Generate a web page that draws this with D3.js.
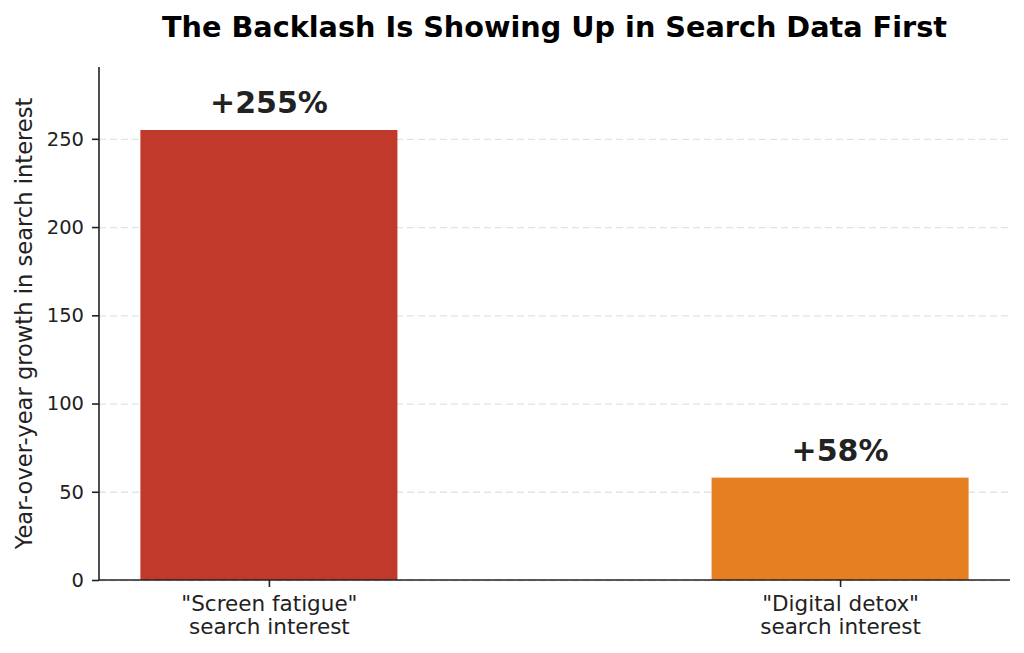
<!DOCTYPE html>
<html>
<head>
<meta charset="utf-8">
<script src="https://cdn.jsdelivr.net/npm/d3@7"></script>
<style>
  body { margin: 0; background: #fff; }
  text { font-family: "DejaVu Sans", sans-serif; }
</style>
</head>
<body>
<div id="chartCtn"></div>
<script>
var categories = [ [ '"Screen fatigue"', 'search interest' ], [ '"Digital detox"', 'search interest' ] ];
var values = [ 255, 58 ];
var valueLabels = [ '+255%', '+58%' ];
var barColors = [ '#c0392b', '#e67e22' ];
var yTicks = [ 0, 50, 100, 150, 200, 250 ];

var width = 1024, height = 653;
var mLeft = 99, mRight = 1010, mTop = 67, mBottom = 580;

var xScale = d3.scaleLinear()
	.domain( [ -0.2975, 1.2975 ] )
	.range( [ mLeft, mRight ] );
var barWidth = 0.45;

var yScale = d3.scaleLinear()
	.domain( [ 0, d3.max( values ) * 1.14 ] )
	.range( [ mBottom, mTop ] );

var chart = d3.select( '#chartCtn' )
	.append( 'svg' )
	.attr( 'width', width )
	.attr( 'height', height );

// grid behind bars
chart.append( 'g' )
	.attr( 'transform', `translate( ${mLeft}, 0 )` )
	.call( d3.axisLeft( yScale ).tickValues( yTicks ).tickSize( -( mRight - mLeft ) ).tickFormat( '' ) )
	.call( g => g.select( '.domain' ).remove() )
	.selectAll( 'line' )
	.attr( 'stroke', '#b0b0b0' )
	.attr( 'stroke-opacity', 0.35 )
	.attr( 'stroke-width', 1.3 )
	.attr( 'stroke-dasharray', '7,4' );

chart.selectAll( 'rect.bar' )
	.data( values )
	.enter()
	.append( 'rect' )
	.attr( 'class', 'bar' )
	.attr( 'x', ( d, i ) => xScale( i - barWidth / 2 ) )
	.attr( 'y', d => yScale( d ) )
	.attr( 'width', ( d, i ) => xScale( i + barWidth / 2 ) - xScale( i - barWidth / 2 ) )
	.attr( 'height', d => yScale( 0 ) - yScale( d ) )
	.attr( 'fill', ( d, i ) => barColors[ i ] );

chart.selectAll( 'text.val' )
	.data( values )
	.enter()
	.append( 'text' )
	.attr( 'class', 'val' )
	.attr( 'x', ( d, i ) => xScale( i ) )
	.attr( 'y', d => yScale( d ) - 17 )
	.attr( 'text-anchor', 'middle' )
	.style( 'font-size', '30px' )
	.style( 'font-weight', 'bold' )
	.attr( 'fill', '#222' )
	.text( ( d, i ) => valueLabels[ i ] );

// y axis
var yAxis = chart.append( 'g' )
	.attr( 'transform', `translate( ${mLeft}, 0 )` )
	.call( d3.axisLeft( yScale ).tickValues( yTicks ).tickSize( 7 ).tickPadding( 8 ) );
yAxis.select( '.domain' ).attr( 'd', `M0,${mTop}V${mBottom}` ).attr( 'stroke', '#222' ).attr( 'stroke-width', 1.6 );
yAxis.selectAll( '.tick line' ).attr( 'stroke', '#222' ).attr( 'stroke-width', 1.6 );
yAxis.selectAll( '.tick text' ).style( 'font-size', '19.5px' ).attr( 'fill', '#222' ).attr( 'font-family', 'DejaVu Sans' );

// x axis
var xAxis = chart.append( 'g' )
	.attr( 'transform', `translate( 0, ${mBottom} )` )
	.call( d3.axisBottom( xScale ).tickValues( d3.range( categories.length ) ).tickSize( 7 ).tickFormat( '' ) );
xAxis.select( '.domain' ).attr( 'd', `M${mLeft},0H${mRight}` ).attr( 'stroke', '#222' ).attr( 'stroke-width', 1.6 );
xAxis.selectAll( '.tick line' ).attr( 'stroke', '#222' ).attr( 'stroke-width', 1.6 );
xAxis.selectAll( '.tick' ).each( function( d ) {
	var t = d3.select( this ).append( 'text' )
		.attr( 'text-anchor', 'middle' )
		.attr( 'fill', '#222' )
		.style( 'font-size', '21.5px' );
	categories[ d ].forEach( ( line, k ) => {
		t.append( 'tspan' ).attr( 'x', 0 ).attr( 'y', 31 + k * 23 ).text( line );
	} );
} );

chart.append( 'text' )
	.attr( 'transform', 'rotate(-90)' )
	.attr( 'x', -( mTop + mBottom ) / 2 )
	.attr( 'y', 32 )
	.attr( 'text-anchor', 'middle' )
	.style( 'font-size', '22.6px' )
	.attr( 'fill', '#222' )
	.text( 'Year-over-year growth in search interest' );

chart.append( 'text' )
	.attr( 'x', ( mLeft + mRight ) / 2 )
	.attr( 'y', 37 )
	.attr( 'text-anchor', 'middle' )
	.style( 'font-size', '28.7px' )
	.style( 'font-weight', 'bold' )
	.attr( 'fill', '#000' )
	.text( 'The Backlash Is Showing Up in Search Data First' );
</script>
</body>
</html>
